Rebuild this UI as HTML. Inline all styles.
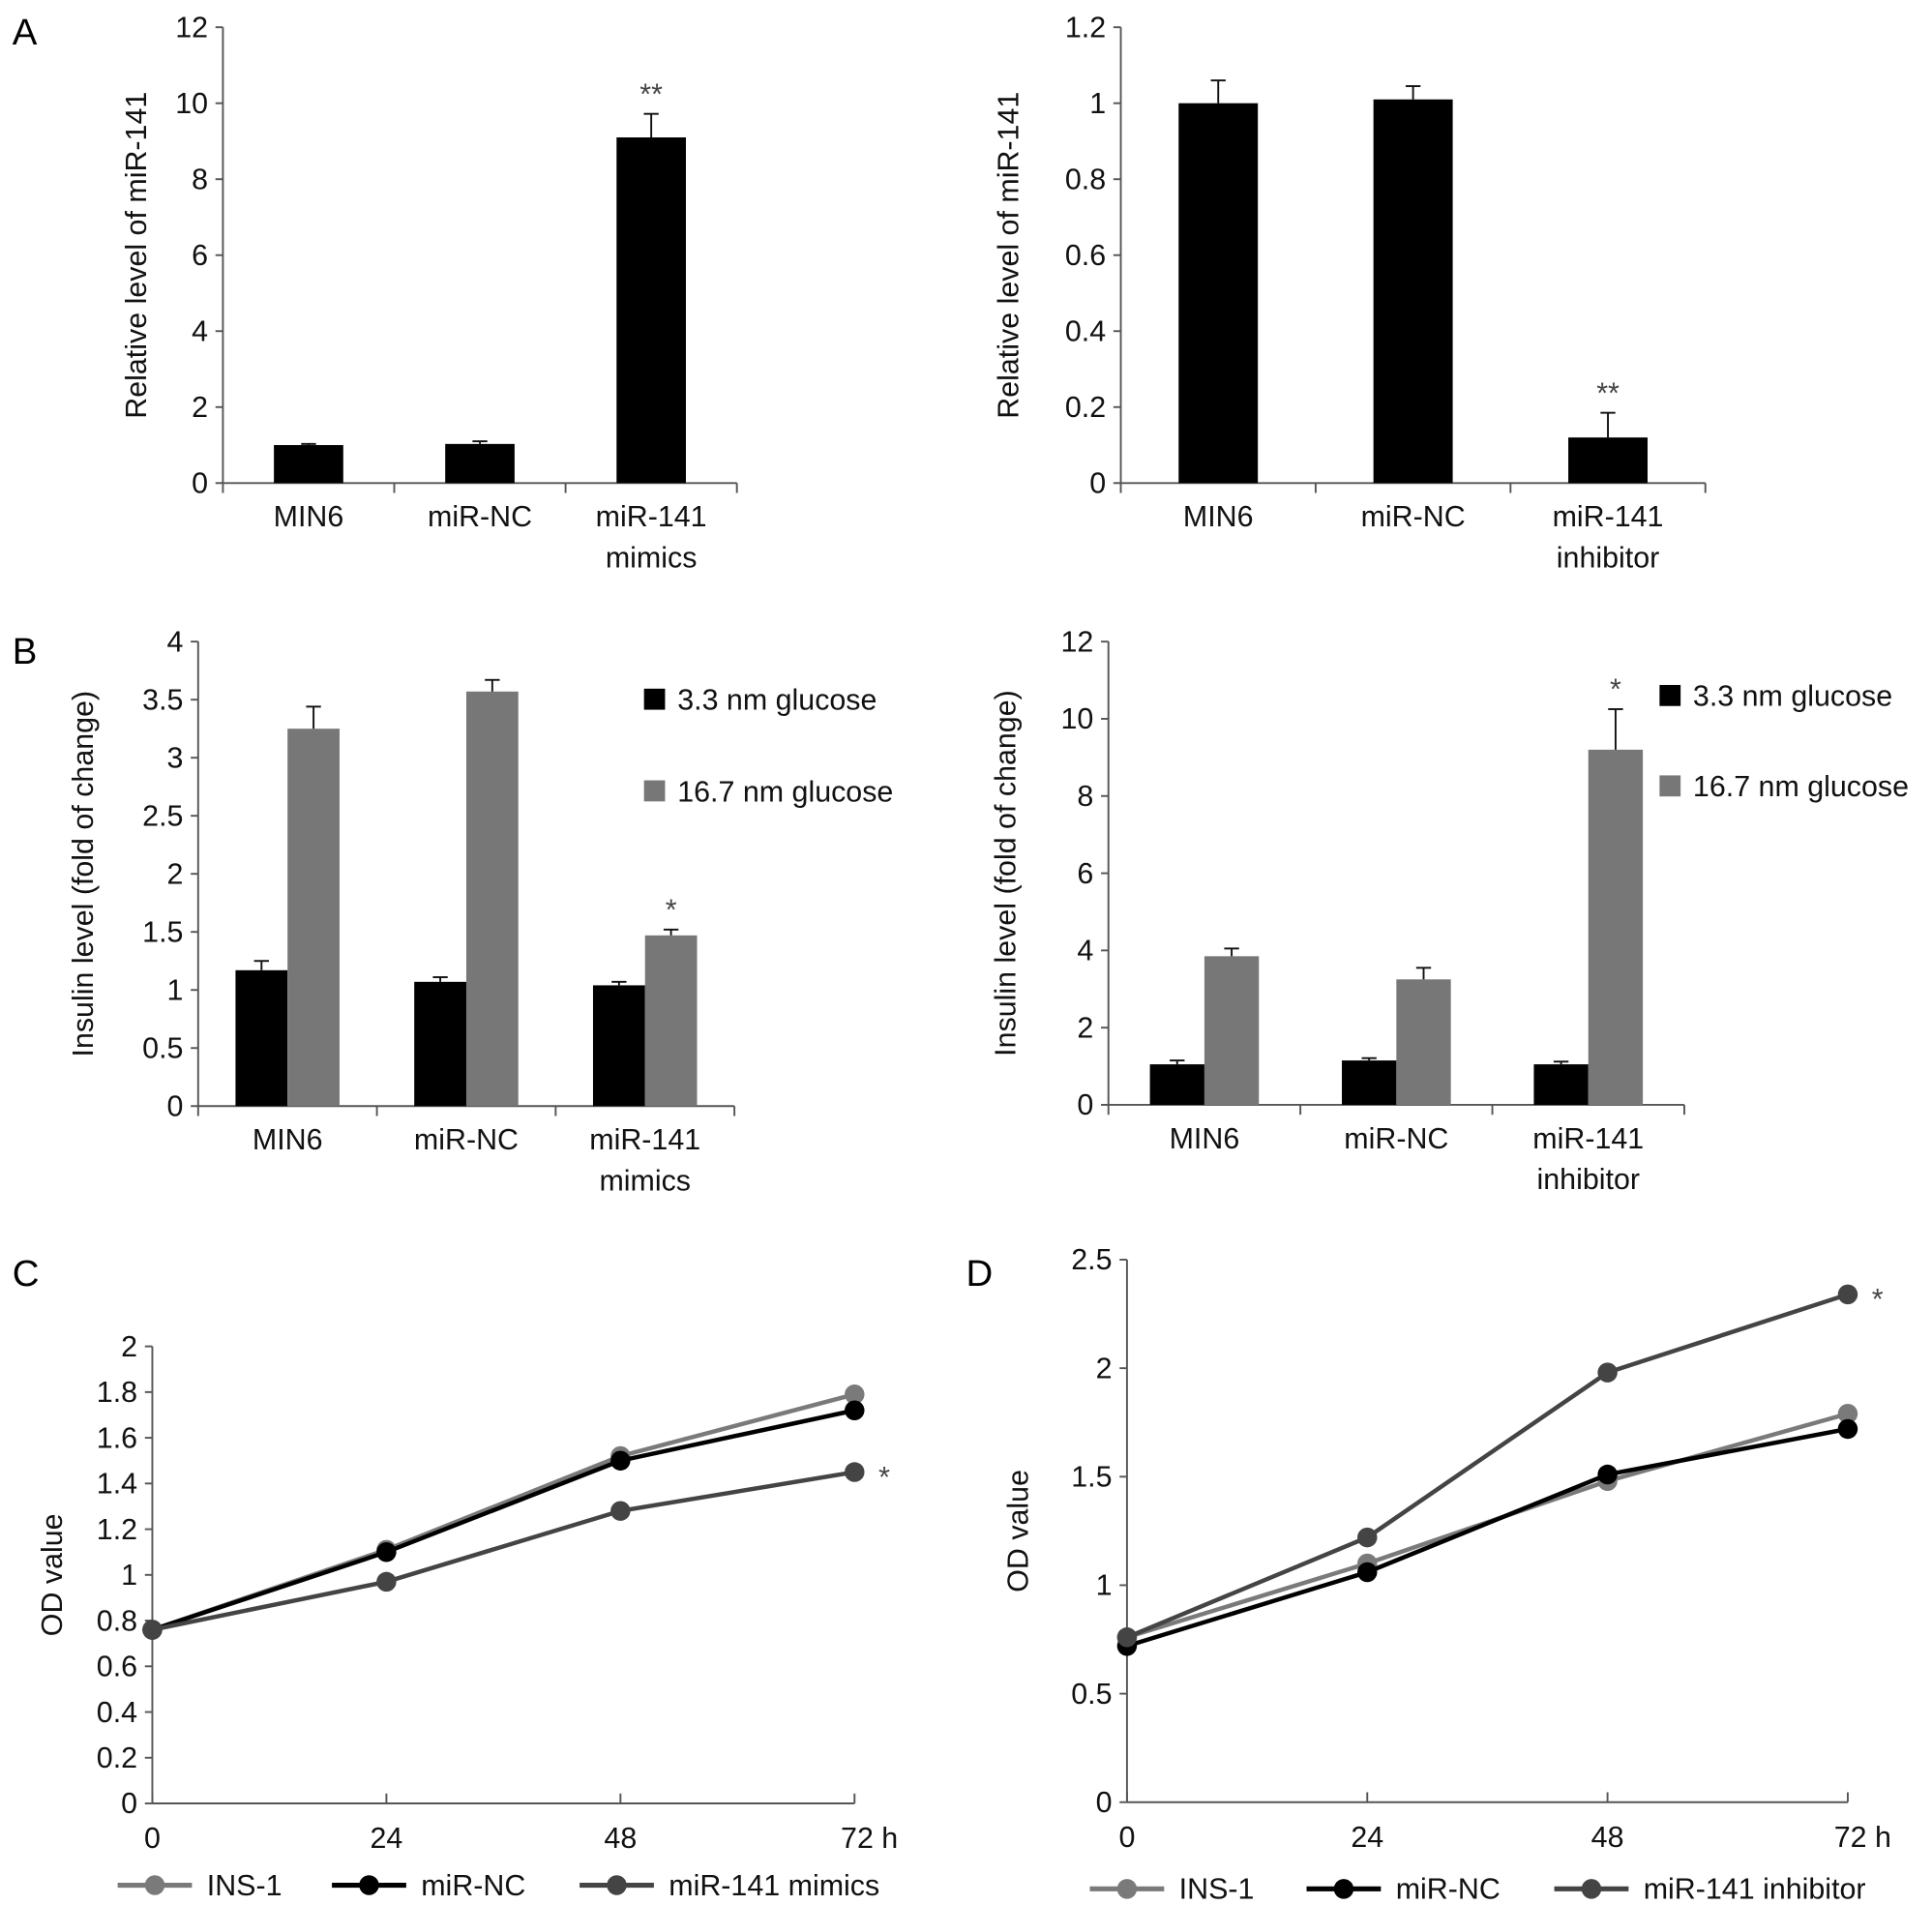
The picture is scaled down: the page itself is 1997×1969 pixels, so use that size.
<!DOCTYPE html>
<html><head><meta charset="utf-8"><style>
html,body{margin:0;padding:0;background:#fff;}
svg{display:block;font-family:"Liberation Sans",Arial,sans-serif;}
</style></head><body>
<svg id="fig" width="1997" height="1969" viewBox="0 0 1560 1538" preserveAspectRatio="none" xmlns="http://www.w3.org/2000/svg">
<text x="10" y="36" font-size="30">A</text>
<text x="10" y="536" font-size="30">B</text>
<text x="10" y="1038" font-size="30">C</text>
<text x="780" y="1038" font-size="30">D</text>
</svg>
<script>
// ---- Data ----
const catsA1 = [["MIN6"],["miR-NC"],["miR-141","mimics"]];
const valsA1 = [1.0, 1.03, 9.1];
const errA1 = [0.03, 0.07, 0.62];
const ticksA1 = [0,2,4,6,8,10,12];
const catsA2 = [["MIN6"],["miR-NC"],["miR-141","inhibitor"]];
const valsA2 = [1.0, 1.01, 0.12];
const errA2 = [0.06, 0.035, 0.065];
const ticksA2 = [0,0.2,0.4,0.6,0.8,1,1.2];
const catsB1 = [["MIN6"],["miR-NC"],["miR-141","mimics"]];
const lowB1 = [1.17, 1.07, 1.04];
const lowErrB1 = [0.08, 0.04, 0.03];
const highB1 = [3.25, 3.57, 1.47];
const highErrB1 = [0.19, 0.1, 0.05];
const ticksB1 = [0,0.5,1,1.5,2,2.5,3,3.5,4];
const catsB2 = [["MIN6"],["miR-NC"],["miR-141","inhibitor"]];
const lowB2 = [1.05, 1.15, 1.05];
const lowErrB2 = [0.1, 0.06, 0.07];
const highB2 = [3.85, 3.25, 9.2];
const highErrB2 = [0.2, 0.3, 1.05];
const ticksB2 = [0,2,4,6,8,10,12];
const timesC = [0,24,48,72];
const ins1C = [0.76, 1.11, 1.52, 1.79];
const ncC = [0.76, 1.10, 1.50, 1.72];
const mimicsC = [0.76, 0.97, 1.28, 1.45];
const ticksC = [0,0.2,0.4,0.6,0.8,1,1.2,1.4,1.6,1.8,2];
const ins1D = [0.76, 1.10, 1.48, 1.79];
const ncD = [0.72, 1.06, 1.51, 1.72];
const inhD = [0.76, 1.22, 1.98, 2.34];
const ticksD = [0,0.5,1,1.5,2,2.5];
const xLabels = ["0","24","48","72 h"];

const svg = document.getElementById('fig');
const NS = 'http://www.w3.org/2000/svg';
function mk(tag, attrs, parent){const e=document.createElementNS(NS,tag);for(const k in attrs)e.setAttribute(k,attrs[k]);(parent||svg).appendChild(e);return e;}
function txt(x,y,s,size,anchor,parent){const t=mk('text',{x:x,y:y,'font-size':size*1.08,'text-anchor':anchor||'middle',fill:'#111'},parent);t.textContent=s;return t;}
const AX='#555';

function yAxis(g,x0,yTop,yBot,ticks,title,titleX){
  const max=ticks[ticks.length-1];
  const sy=v=>yBot-(v/max)*(yBot-yTop);
  const l=mk('line',{x1:x0,y1:yTop,x2:x0,y2:yBot,stroke:AX,'stroke-width':1.5},g);
  
  
  ticks.forEach(v=>{
    mk('line',{x1:x0-6,y1:sy(v),x2:x0,y2:sy(v),stroke:AX,'stroke-width':1.5},g);
    const t=txt(x0-12,sy(v)+8,String(v),22,'end',g);
    
    
  });
  const yt=txt(0,0,title,22,'middle',g);
  yt.setAttribute('transform','translate('+titleX+','+((yTop+yBot)/2)+') rotate(-90)');
  
  
  return sy;
}

function barChart(name,x0,x1,yTop,yBot,ticks,cats,series,colors,errs,barW,titleX,stars,legend){
  const g=mk('g',{});
  
  
  const sy=yAxis(g,x0,yTop,yBot,ticks,cats===catsB1||cats===catsB2?'Insulin level (fold of change)':'Relative level of miR-141',titleX);
  mk('line',{x1:x0,y1:yBot,x2:x1,y2:yBot,stroke:AX,'stroke-width':1.5},g);
  const cw=(x1-x0)/cats.length;
  for(let i=0;i<=cats.length;i++) mk('line',{x1:x0+i*cw,y1:yBot,x2:x0+i*cw,y2:yBot+8,stroke:AX,'stroke-width':1.5},g);
  cats.forEach((c,i)=>{
    const cx=x0+cw*(i+0.5);
    c.forEach((line,j)=>{const t=txt(cx,yBot+35+j*33,line,22,'middle',g);
      
      });
    const n=series.length;
    series.forEach((s,k)=>{
      const bx=cx-n*barW/2+k*barW;
      const top=sy(s[i]);
      const r=mk('rect',{x:bx,y:top,width:barW,height:yBot-top,fill:colors[k]},g);
      
      
      const ex=bx+barW/2, et=sy(s[i]+errs[k][i]);
      mk('line',{x1:ex,y1:top,x2:ex,y2:et,stroke:'#111','stroke-width':1.5},g);
      mk('line',{x1:ex-6,y1:et,x2:ex+6,y2:et,stroke:'#111','stroke-width':1.5},g);
      if(stars[k]&&stars[k][i]){const st=txt(ex,et-8,stars[k][i],22,'middle',g);st.setAttribute('fill','#444');
        
        }
    });
  });
  if(legend){
    legend.items.forEach((it,k)=>{
      const ly=legend.y+k*legend.dy;
      const r=mk('rect',{x:legend.x,y:ly-9,width:17,height:17,fill:colors[k]},g);
      
      
      const t=txt(legend.x+27,ly+8,it,22,'start',g);
      
      
    });
  }
}

barChart('chart-a-mimics',180,595,22,390,ticksA1,catsA1,[valsA1],['#000'],[errA1],56,118,[[null,null,'**']]);
barChart('chart-a-inhibitor',905,1377,22,390,ticksA2,catsA2,[valsA2],['#000'],[errA2],64,822,[[null,null,'**']]);
barChart('chart-b-mimics',160,593,518,893,ticksB1,catsB1,[lowB1,highB1],['#000','#777'],[lowErrB1,highErrB1],42,75,[null,[null,null,'*']],
  {x:520,y:565,dy:74,items:['3.3 nm glucose','16.7 nm glucose']});
barChart('chart-b-inhibitor',895,1360,518,892,ticksB2,catsB2,[lowB2,highB2],['#000','#777'],[lowErrB2,highErrB2],44,820,[null,[null,null,'*']],
  {x:1340,y:562,dy:73,items:['3.3 nm glucose','16.7 nm glucose']});

function lineChart(name,x0,x1,yTop,yBot,ticks,seriesList,colors,labels,starIdx,titleX,legendPos){
  const g=mk('g',{});
  
  
  const sy=yAxis(g,x0,yTop,yBot,ticks,'OD value',titleX);
  mk('line',{x1:x0,y1:yBot,x2:x1,y2:yBot,stroke:AX,'stroke-width':1.5},g);
  const tmax=timesC[timesC.length-1];
  const sx=t=>x0+(t/tmax)*(x1-x0);
  timesC.forEach((t,i)=>{
    mk('line',{x1:sx(t),y1:yBot,x2:sx(t),y2:yBot-8,stroke:AX,'stroke-width':1.5},g);
    const lt=txt(sx(t)+(i===3?12:0),yBot+36,xLabels[i],22,'middle',g);
    
    
  });
  seriesList.forEach((s,k)=>{
    const pts=s.map((v,i)=>sx(timesC[i])+','+sy(v)).join(' ');
    const pl=mk('polyline',{points:pts,fill:'none',stroke:colors[k],'stroke-width':3.5},g);
    
    
    s.forEach((v,i)=>{
      const c=mk('circle',{cx:sx(timesC[i]),cy:sy(v),r:8,fill:colors[k]},g);
      
      
    });
  });
  const last=seriesList[starIdx];
  const st=txt(sx(tmax)+24,sy(last[last.length-1])+12,'*',22,'middle',g);
  st.setAttribute('fill','#444');
  
  
  legendPos.forEach((lx,k)=>{
    const ly=legendPos.y;
    mk('line',{x1:lx,y1:ly,x2:lx+60,y2:ly,stroke:colors[k],'stroke-width':4},g);
    mk('circle',{cx:lx+30,cy:ly,r:8,fill:colors[k]},g);
    const t=txt(lx+72,ly+8,labels[k],22,'start',g);
    
    
  });
}
const legC=[95,268,468]; legC.y=1522;
const legD=[880,1055,1255]; legD.y=1525;
lineChart('chart-c',123,690,1087,1456,ticksC,[ins1C,ncC,mimicsC],['#7a7a7a','#000','#444'],['INS-1','miR-NC','miR-141 mimics'],2,50,legC);
lineChart('chart-d',910,1492,1017,1455,ticksD,[ins1D,ncD,inhD],['#7a7a7a','#000','#444'],['INS-1','miR-NC','miR-141 inhibitor'],2,830,legD);
</script>
</body></html>
